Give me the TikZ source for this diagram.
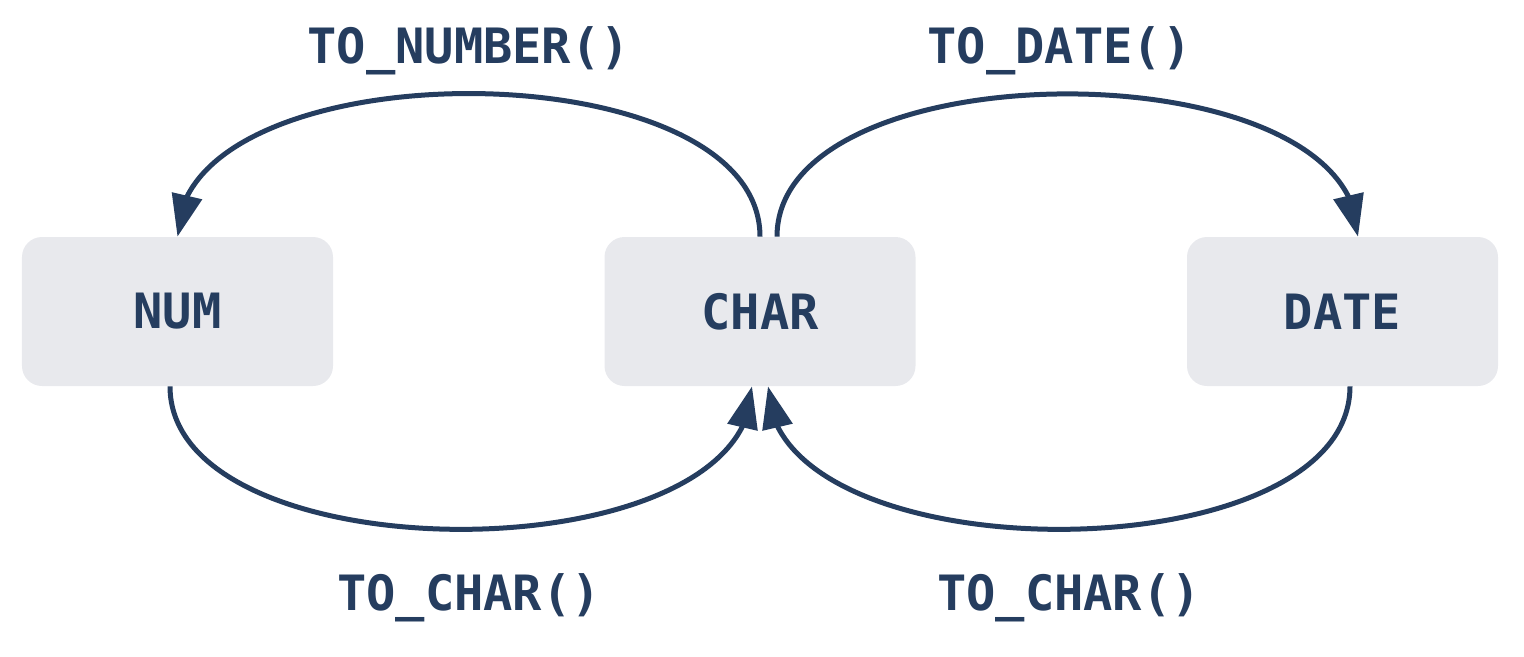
\documentclass[tikz,border=0pt]{standalone}
\usepackage{fontspec}
\setmonofont{DejaVu Sans Mono}
\usetikzlibrary{arrows.meta, bending, positioning}
\definecolor{navy}{HTML}{253D5F}
\definecolor{boxgray}{HTML}{E8E9ED}
\newcommand{\codefont}{\ttfamily\bfseries\fontsize{27.7}{32}\selectfont}

\begin{document}
\begin{tikzpicture}[node distance=11.65cm, on grid,
    box/.style={rectangle, rounded corners=0.4cm, fill=boxgray,
      minimum width=6.22cm, minimum height=2.98cm, text=navy, font=\codefont},
    lbl/.style={text=navy, font=\codefont, inner sep=0pt,
      text height=0.73cm, text depth=0pt},
    conv/.style={color=navy, line width=0.1cm, looseness=0.84,
      -{Triangle[length=0.84cm, width=0.6cm, flex]}}]
   \useasboundingbox (-3.55,-6.89) rectangle (26.93,6.23);
   \node[box] (num) {NUM};
   \node[box] (char) [right=of num] {CHAR};
   \node[box] (date) [right=of char] {DATE};
    \path[conv]
    (char.north) edge [out=90, in=90] node [lbl, above=0.56cm] {TO\_NUMBER()} (num.north)
    ([xshift=0.34cm]char.north) edge [out=90, in=90] node [lbl, above=0.56cm, xshift=-0.16cm] {TO\_DATE()} ([xshift=0.31cm]date.north)
    ([xshift=-0.15cm]num.south) edge [out=-90, in=-90] node [lbl, below=0.85cm, xshift=0.16cm] {TO\_CHAR()} ([xshift=-0.16cm]char.south)
    ([xshift=0.15cm]date.south) edge [out=-90, in=-90] node [lbl, below=0.85cm, xshift=0.2cm] {TO\_CHAR()} ([xshift=0.16cm]char.south);
\end{tikzpicture}
\end{document}
